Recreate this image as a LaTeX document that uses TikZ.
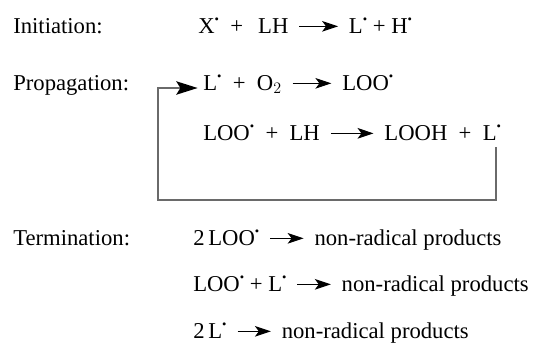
\documentclass[tikz,border=0pt]{standalone}
\usepackage{fontspec}
\setmainfont{Liberation Serif}
\usepackage{tikz}
\usetikzlibrary{positioning,arrows.meta}
\definecolor{loopGrey}{HTML}{6A6A6A}
\newcommand{\rad}{\raisebox{0.40em}{\scalebox{0.55}{\textbullet}}}

\begin{document}
\begin{tikzpicture}[x=0.75pt,y={(0,-0.75pt)},font=\fontsize{17}{20}\selectfont,
  eq/.style={anchor=base west,inner sep=0pt},
  rxn/.style={-{Stealth[length=12pt,width=8pt,inset=3pt]},line width=0.8pt,shorten <=8pt,shorten >=8pt}]
\useasboundingbox (0,0) rectangle (552,351);
% stage labels
\node[eq] (lblInit) at (13,33) {Initiation:};
\node[eq] (lblProp) at (13,90) {Propagation:};
\node[eq] (lblTerm) at (13,245) {Termination:};
% initiation
\node[eq] (init1) at (198,33) {X\rad\enspace+\enspace\,LH};
\node[eq,base right=45pt of init1] (init2) {L\rad\ + H\rad};
\draw[rxn] ([yshift=5pt]init1.base east) -- ([yshift=5pt]init2.base west);
% propagation
\node[eq] (prop1a) at (203,90) {L\rad\enspace+\enspace O$_2$};
\node[eq,base right=45pt of prop1a] (prop1b) {LOO\rad};
\draw[rxn] ([yshift=5pt]prop1a.base east) -- ([yshift=5pt]prop1b.base west);
\node[eq] (prop2a) at (203,140) {LOO\rad\enspace+\enspace LH};
\node[eq,base right=48pt of prop2a] (prop2b) {LOOH\enspace+\enspace L\rad};
\draw[rxn] ([yshift=5pt]prop2a.base east) -- ([yshift=5pt]prop2b.base west);
% chain loop
\coordinate (loopStart) at (496,147);
\coordinate (loopTop) at (158,88);
\draw[loopGrey, line width=1.4pt, -{Stealth[length=16pt,width=10pt,inset=3pt,black]}, shorten >=4pt]
  (loopStart) -- (496,200) -| (loopTop) -- (prop1a.west |- loopTop);
% termination
\node[eq] (term1a) at (193,245) {2\,LOO\rad};
\node[eq,base right=41pt of term1a] (term1b) {non-radical products};
\draw[rxn] ([yshift=5pt]term1a.base east) -- ([yshift=5pt]term1b.base west);
\node[eq] (term2a) at (193,291) {LOO\rad\ + L\rad};
\node[eq,base right=41pt of term2a] (term2b) {non-radical products};
\draw[rxn] ([yshift=5pt]term2a.base east) -- ([yshift=5pt]term2b.base west);
\node[eq] (term3a) at (193,338) {2\,L\rad};
\node[eq,base right=41pt of term3a] (term3b) {non-radical products};
\draw[rxn] ([yshift=5pt]term3a.base east) -- ([yshift=5pt]term3b.base west);
\end{tikzpicture}
\end{document}
